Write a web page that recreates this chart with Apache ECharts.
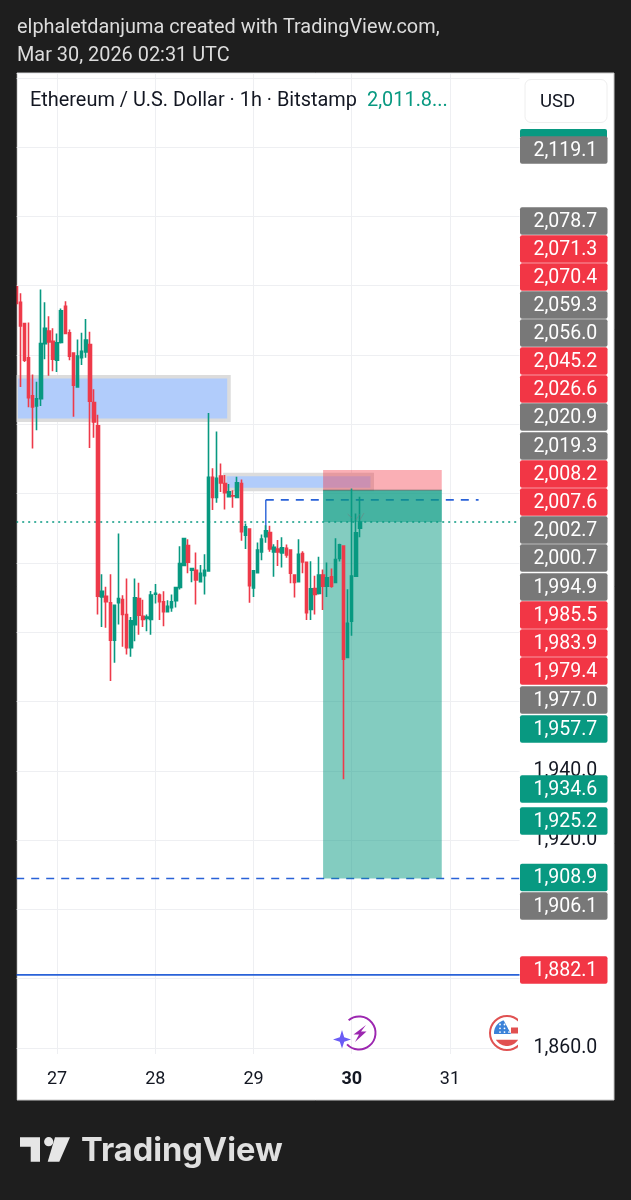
<!DOCTYPE html>
<html><head><meta charset="utf-8">
<style>html,body{margin:0;padding:0;background:#1e1e1e}#c{width:631px;height:1200px}</style>
<script src="https://cdn.jsdelivr.net/npm/echarts@6/dist/echarts.min.js"></script>
</head><body><div id="c"></div>
<script>
// Hourly bars, first bar = 26 Mar 14:00
const opens=[2079.7,2075.2,2069.1,2059.2,2048.2,2045.3,2047.4,2063.3,2066.9,2064.0,2058.5,2063.6,2074.1,2066.4,2060.6,2050.8,2059.2,2060.9,2063.0,2046.3,2039.6,1990.2,1990.4,1988.5,1977.7,1988.5,1989.4,1985.1,1975.5,1982.2,1989.7,1984.6,1984.0,1983.7,1991.0,1990.7,1988.8,1985.9,1987.1,1989.1,1992.9,1999.3,2005.0,1997.9,1997.9,1994.6,1996.3,1997.7,2024.7,2018.9,2025.1,2022.9,2019.1,2019.4,2018.9,2022.9,2008.0,2009.8,1992.8,1997.2,2003.2,2007.6,2008.8,2003.2,2004.0,2002.9,2004.2,2003.7,1996.5,1994.6,2002.7,2000.2,1986.6,1992.6,1991.2,1996.5,1993.3,1996.0,1994.4,2001.3,2004.9,1972.7,1983.2,1996.2,2010.0];
const closes=[2074.9,2068.4,2058.5,2047.7,2045.0,2047.4,2063.3,2067.7,2063.8,2058.8,2063.5,2072.8,2066.2,2059.7,2051.3,2059.7,2061.1,2064.3,2046.7,2040.7,1990.4,1991.8,1988.8,1977.7,1987.8,1989.7,1985.1,1975.5,1983.3,1989.9,1984.9,1983.7,1984.4,1990.7,1991.2,1988.8,1985.9,1987.5,1988.8,1992.9,1999.8,2007.0,2000.2,1998.4,1995.1,1997.0,1997.9,2024.7,2018.9,2024.4,2023.1,2020.3,2020.5,2019.3,2023.1,2009.0,2010.4,1993.4,1997.7,2003.7,2006.9,2009.3,2004.0,2004.5,2003.2,2004.4,2002.3,1997.0,1994.4,2002.5,2000.3,1985.6,1992.5,1990.9,1996.5,1993.3,1995.7,1993.3,2001.0,2005.2,1972.2,1982.6,1996.2,2008.7,2011.8];
const lows=[2073.9,2050.8,2058.0,2044.9,2033.0,2038.3,2045.3,2058.8,2054.0,2055.3,2055.1,2063.3,2066.2,2058.5,2042.2,2050.6,2057.1,2059.2,2033.2,2036.1,1985.1,1981.5,1981.3,1965.9,1971.2,1982.2,1975.8,1973.6,1972.9,1977.4,1979.3,1981.5,1980.3,1979.3,1988.3,1983.5,1981.7,1985.7,1985.9,1987.1,1992.3,1999.3,1997.0,1994.4,1988.0,1994.4,1990.9,1997.7,2015.3,2017.4,2020.5,2015.4,2019.1,2015.9,2018.9,2006.4,2004.0,1988.5,1990.2,1997.0,2000.8,2005.8,2003.2,1996.0,1999.1,1998.7,2001.5,1994.1,1990.0,1994.4,1997.0,1983.5,1983.5,1985.1,1990.9,1986.4,1990.2,1992.8,1994.1,2000.4,1937.6,1972.7,1979.0,1996.2,2007.4];
const highs=[2080.6,2077.8,2069.3,2069.4,2054.4,2052.3,2078.9,2075.2,2071.2,2067.7,2066.2,2073.4,2075.5,2067.4,2060.6,2064.5,2066.4,2070.4,2066.7,2050.1,2042.8,1996.7,1993.1,1996.7,1987.8,2008.5,1990.7,1995.5,1984.4,1995.5,1994.3,1989.4,1985.1,1991.9,1993.9,1991.2,1991.8,1989.2,1990.9,1993.1,2004.8,2007.0,2006.8,1998.6,2003.0,1999.4,2002.5,2043.3,2027.3,2037.9,2028.7,2025.4,2022.8,2021.0,2024.9,2024.1,2011.4,2009.8,1997.7,2005.9,2008.2,2010.9,2010.7,2005.4,2006.6,2007.4,2005.3,2003.7,1996.7,2006.8,2003.4,2000.3,2000.5,1996.3,2001.8,1998.1,2000.1,1998.4,2007.1,2005.5,2004.9,1992.4,2021.5,2014.3,2019.1];

const tickLabels=[1860,1920,1940];
const tagValues=[2119.1,2078.7,2071.3,2070.4,2059.3,2056.0,2045.2,2026.6,2020.9,2019.3,2008.2,2007.6,2002.7,2000.7,1994.9,1985.5,1983.9,1979.4,1977.0,1957.7,1934.6,1925.2,1908.9,1906.1,1882.1];
const tagKinds=['g','g','r','r','g','g','r','r','g','g','r','r','g','g','g','r','r','r','g','t','t','t','t','g','r'];

const lastPrice=2011.8, targetPrice=1908.9, supportPrice=1881.1, entryPrice=2018.2, entryFoot=2009.2, stopPrice=2026.8, openPrice=2021.0;
</script>
<script>
// ---- layout ----
const PRICE_MAX=2141.4, PRICE_MIN=1860;
const firstHour=-10, hourCount=124;
const cats=[];for(let i=0;i<hourCount;i++){const h=i+firstHour;cats.push(String(27+Math.floor(h/24))+' '+String(((h%24)+24)%24).padStart(2,'0')+':00');}
const isDay=i=>((i+firstHour)%24+24)%24===0;
const RED='#f23645',GREEN='#089981',GREY='#787878',BLUE='#2962d8',INK='#131722';
const tagColor={r:RED,t:GREEN,g:GREY};
const FONT='Roboto,"Noto Sans",sans-serif';
// centre line of each price tag in the stacked scale column
const tagCentres=[150,221,249,277,305,333,361,389,417,446,474,502,530,558,587,615,643,671,700,729,789,821,877.5,906,970];
const Z=50;
const g=[];
g.push({type:'rect',z:-10,shape:{x:17,y:73,width:597,height:1027},style:{fill:'#fff',stroke:'#c8c8c8',lineWidth:1}});
g.push({type:'rect',z:Z,shape:{x:0,y:73,width:16.5,height:1027},style:{fill:'#1e1e1e'}});
const txt=(t,x,y,o)=>g.push({type:'text',z:Z,x,y:y+1.6,style:Object.assign({text:t,fill:INK,font:'18px '+FONT,textVerticalAlign:'middle',textBaseline:'middle'},o||{})});
txt('elphaletdanjuma created with TradingView.com,',17,26,{fill:'#dcdcdc',font:'19.9px '+FONT});
txt('Mar 30, 2026 02:31 UTC',17,54,{fill:'#dcdcdc',font:'19.9px '+FONT});
txt('Ethereum / U.S. Dollar · 1h · Bitstamp',30,99,{font:'19.9px '+FONT});
txt('2,011.8...',367,99,{fill:GREEN,font:'19.9px '+FONT});
g.push({type:'rect',z:Z,shape:{x:525,y:79.5,width:82,height:43,r:6},style:{fill:'#fff',stroke:'#eeeeee',lineWidth:1}});
txt('USD',540,101,{font:'18.6px '+FONT});
g.push({type:'rect',z:Z,shape:{x:520,y:129,width:87,height:8,r:[2,2,0,0]},style:{fill:GREEN}});
tagValues.forEach((v,i)=>{
  const c=tagCentres[i];
  g.push({type:'rect',z:Z,shape:{x:520,y:c-13.7,width:87.5,height:27.4,r:2},style:{fill:tagColor[tagKinds[i]]}});
  txt(v.toLocaleString('en-US',{minimumFractionDigits:1,maximumFractionDigits:1}),533.5,c-0.6,{fill:'#fff',font:'19.5px '+FONT});
});
// event icons
g.push({type:'arc',z:Z,shape:{cx:359,cy:1033,r:16.5,startAngle:-2.25,endAngle:2.38,clockwise:true},style:{fill:'none',stroke:'#9c27b0',lineWidth:2}});
g.push({type:'polygon',z:Z,shape:{points:[[342,1030],[344.2,1037.3],[351,1039.5],[344.2,1041.7],[342,1048.5],[339.8,1041.7],[333,1039.5],[339.8,1037.3]]},style:{fill:'#6a5cf5'}});
g.push({type:'polygon',z:Z,shape:{points:[[366,1025],[353.5,1034.5],[359,1034.5],[355,1042],[366.5,1031.5],[361,1031.5]]},style:{fill:'#9c27b0'}});
const arcPts=(cx,cy,r,a0,a1)=>{const p=[];for(let k=0;k<=24;k++){const a=a0+(a1-a0)*k/24;p.push([cx+r*Math.cos(a),cy+r*Math.sin(a)]);}return p;};
g.push({type:'circle',z:Z,shape:{cx:507,cy:1033,r:17},style:{fill:'#fff',stroke:'#e05252',lineWidth:2}});
g.push({type:'polygon',z:Z,shape:{points:arcPts(507,1033,13,0.55,Math.PI-0.55)},style:{fill:'#e15050'}});
g.push({type:'rect',z:Z,shape:{x:511,y:1027.5,width:8,height:6},style:{fill:'#e15050'}});
g.push({type:'polygon',z:Z,shape:{points:[[511,1034],[494,1034]].concat(arcPts(507,1033,13,Math.PI,Math.PI*1.42))},style:{fill:'#3b82d8'}});
for(let a=0;a<3;a++)for(let b=0;b<3;b++)g.push({type:'circle',z:Z,shape:{cx:500+a*4.5,cy:1024.5+b*3.8,r:0.9},style:{fill:'#fff'}});
g.push({type:'rect',z:Z+2,shape:{x:518,y:1012,width:13,height:42},style:{fill:'#fff'}});
// footer mark
g.push({type:'polygon',z:Z,shape:{points:[[20,1137.3],[40,1137.3],[40,1161.7],[30.7,1161.7],[30.7,1146.7],[20,1146.7]]},style:{fill:'#e6e6e6'}});
g.push({type:'circle',z:Z,shape:{cx:48.7,cy:1141.7,r:4.6},style:{fill:'#e6e6e6'}});
g.push({type:'polygon',z:Z,shape:{points:[[55,1137.3],[70,1137.3],[59.3,1161.7],[47.7,1161.7]]},style:{fill:'#e6e6e6'}});
txt('TradingView',81,1149.5,{fill:'#e0e0e0',font:'700 32.6px Inter,Roboto,sans-serif'});

const chart=echarts.init(document.getElementById('c'),null,{renderer:'canvas'});
const lineS=(data,color,width,type,z)=>({type:'line',data,symbol:'none',silent:true,z:z||1,animation:false,lineStyle:{color,width,type},itemStyle:{color}});
const lastI=hourCount-1, rectL=75, rectR=104;
const SMUDGE='rgba(115,125,125,0.55)';
chart.setOption({
  animation:false,
  backgroundColor:'#1e1e1e',
  graphic:g,
  grid:{left:16.2,width:503.3,top:73,height:975},
  xAxis:{type:'category',data:cats,boundaryGap:false,
    axisLine:{show:false},
    axisTick:{show:true,length:6,interval:i=>isDay(i),lineStyle:{color:'#eeeff2'}},
    splitLine:{show:true,interval:i=>isDay(i),lineStyle:{color:'#eeeff2',width:1}},
    axisLabel:{interval:i=>isDay(i),margin:22,color:INK,fontFamily:'Roboto',fontSize:18,
      formatter:v=>{const d=v.split(' ')[0];return d==='30'?'{b|30}':d;},
      rich:{b:{fontWeight:'bold',fontFamily:'Roboto',fontSize:18,color:INK}}}},
  yAxis:{type:'value',position:'right',min:PRICE_MIN,max:PRICE_MAX,interval:20,
    axisLine:{show:false},axisTick:{show:false},
    splitLine:{show:true,lineStyle:{color:'#eeeff2',width:1}},
    axisLabel:{margin:14,color:INK,fontFamily:'Roboto',fontSize:19.5,showMaxLabel:false,
      formatter:v=>tickLabels.includes(v)?v.toLocaleString('en-US',{minimumFractionDigits:1,maximumFractionDigits:1}):''}},
  series:[
    lineS([[0,lastPrice],[lastI,lastPrice]],GREEN,1.5,[2,4]),
    lineS([[0,targetPrice],[lastI,targetPrice]],BLUE,1.6,[8,7]),
    lineS([[0,supportPrice],[lastI,supportPrice]],BLUE,1.8,'solid'),
    lineS([[61,entryPrice],[113,entryPrice]],BLUE,1.6,[8,7]),
    lineS([[61,entryFoot],[61,entryPrice]],BLUE,1.4,'solid'),
    {type:'line',data:[],z:2,silent:true,
     markArea:{silent:true,z:2,animation:false,data:[
       [{coord:[0,2053.7],itemStyle:{color:'#b1ccfb',borderColor:'#dcdcdc',borderWidth:3.5}},{coord:[52,2041.2]}],
       [{coord:[51,2025.5],itemStyle:{color:'#b1ccfb',borderColor:'#dcdcdc',borderWidth:3.5}},{coord:[87,2021.2]}],
       [{coord:[rectL,stopPrice],itemStyle:{color:'rgba(242,54,69,0.4)'}},{coord:[rectR,openPrice]}],
       [{coord:[rectL,openPrice],itemStyle:{color:'rgba(8,153,129,0.5)'}},{coord:[rectR,targetPrice]}],
       [{coord:[rectL,openPrice],itemStyle:{color:'rgba(8,153,129,0.5)'}},{coord:[rectR,lastPrice]}]
     ]}},
    lineS([[rectL,openPrice],[rectR,openPrice]],'rgba(70,90,85,0.6)',1,'solid',2),
    {type:'candlestick',z:3,barWidth:3,silent:true,clip:true,
     data:opens.map((o,i)=>[o,closes[i],lows[i],highs[i]]),
     itemStyle:{color:GREEN,color0:'#ee3a4a',borderColor:GREEN,borderColor0:'#ee3a4a',borderWidth:1.6}},
    lineS([[81,2014.1],[82,2013.0]],SMUDGE,1,'solid',4),
    lineS([[83,2012.4],[84,2014.1]],SMUDGE,1,'solid',4),
    lineS([[84,2012.4],[85,2014.4]],SMUDGE,1,'solid',4)
  ]
});
</script>
</body></html>
